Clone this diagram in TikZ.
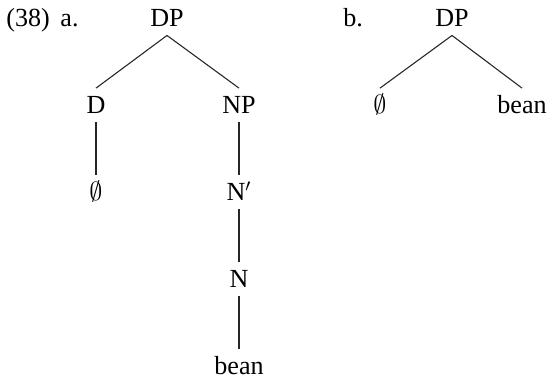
\documentclass[tikz,border=0pt]{standalone}
\usepackage{fontspec}
\setmainfont{Liberation Serif}
\usepackage{tikz}

\newcommand{\nullcat}{{\fontsize{13.2}{14}\selectfont$\emptyset$}}

\begin{document}
\begin{tikzpicture}[x=0.46pt,
				y=-0.46pt,
				font=\fontsize{12}{14}\selectfont,
				cat/.style={anchor=base, text height=8pt, text depth=0pt, inner xsep=1pt, inner ysep=3.7pt},
				lbl/.style={anchor=base west, inner sep=0pt},
				branch/.style={draw=black!85, line width=0.5pt}]
				\useasboundingbox (0,0) rectangle (550,378);
				% labels
				\node at (6,27) (exnum) [lbl] {(38)};
				\node at (60,27) (exa) [lbl] {a.};
				\node at (343,27) (exb) [lbl] {b.};
				% tree a
				\node at (167,27) (dpa) [cat] {DP};
				\node at (96,114) (d) [cat] {D};
				\node at (239,114) (np) [cat] {NP};
				\node at (96,201) (nulla) [cat] {\nullcat};
				\node at (239,201) (nbar) [cat] {N$'$};
				\node at (239,288) (n) [cat] {N};
				\node at (239,375) (beana) [cat] {bean};
				\draw[branch] (dpa.south) -- (d.north);
				\draw[branch] (dpa.south) -- (np.north);
				\draw[branch] (d.south) -- (nulla.north);
				\draw[branch] (np.south) -- (nbar.north);
				\draw[branch] (nbar.south) -- (n.north);
				\draw[branch] (n.south) -- (beana.north);
				% tree b
				\node at (452,27) (dpb) [cat] {DP};
				\node at (380,114) (nullb) [cat] {\nullcat};
				\node at (522,114) (beanb) [cat] {bean};
				\draw[branch] (dpb.south) -- (nullb.north);
				\draw[branch] (dpb.south) -- (beanb.north);
			\end{tikzpicture}
\end{document}
